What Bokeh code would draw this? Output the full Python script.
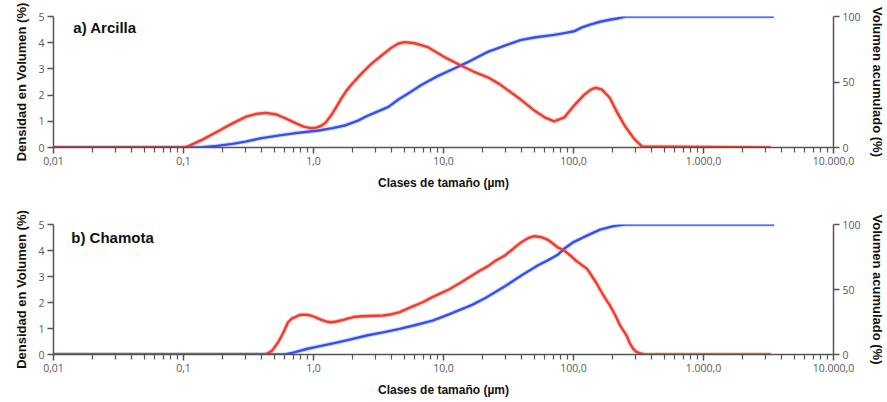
from bokeh.plotting import figure
from bokeh.models import Range1d, LinearAxis, FixedTicker, Label, CustomJSTickFormatter
from bokeh.layouts import column
from bokeh.embed import file_html
from bokeh.resources import INLINE

# ---------------- data ----------------
x_tick_values = [0.01, 0.1, 1, 10, 100, 1000, 10000]
x_tick_labels = ["0,01", "0,1", "1,0", "10,0", "100,0", "1.000,0", "10.000,0"]
dens_ticks = [0, 1, 2, 3, 4, 5]
cum_ticks = [0, 50, 100]

# a) Arcilla – volume density (%)
arc_den_x = [0.01, 0.1, 0.108, 0.14, 0.189, 0.24, 0.304, 0.37, 0.433, 0.52, 0.615, 0.75, 0.85,
             0.955, 1.05, 1.15, 1.24, 1.4, 1.5, 1.65, 1.8, 2.0, 2.34, 2.8, 3.34, 4.0, 4.5, 5.06,
             6.0, 7.6, 10.0, 13.6, 17.0, 21.9, 27.0, 32.9, 40.0, 50.0, 60.0, 71.0, 85.0, 101.0,
             120.0, 135.0, 147.0, 165.0, 190.0, 216.0, 250.0, 292.0, 336.0, 3300.0]
arc_den_y = [0, 0, 0.04, 0.3, 0.65, 0.93, 1.18, 1.29, 1.32, 1.26, 1.1, 0.9, 0.79,
             0.74, 0.76, 0.83, 0.95, 1.3, 1.55, 1.9, 2.18, 2.45, 2.82, 3.2, 3.51, 3.82, 3.97, 4.02,
             3.98, 3.83, 3.47, 3.13, 2.9, 2.68, 2.42, 2.11, 1.8, 1.41, 1.15, 1.0, 1.15, 1.6,
             2.0, 2.2, 2.28, 2.22, 1.9, 1.35, 0.8, 0.34, 0.04, 0]
# a) Arcilla – cumulative volume (%)
arc_cum_x = [0.01, 0.1, 0.14, 0.18, 0.238, 0.3, 0.40, 0.55, 0.73, 0.9, 1.1, 1.4, 1.77, 2.2,
             2.65, 3.2, 3.77, 4.5, 5.5, 6.75, 9.0, 12.2, 16.0, 21.9, 30.0, 39.0, 50.0, 71.0,
             85.0, 101.0, 115.0, 134.0, 160.0, 190.0, 216.0, 250.0, 3470.0]
arc_cum_y = [0, 0, 0.3, 1.2, 2.8, 4.5, 7.2, 9.3, 11.0, 12.0, 13.0, 14.8, 17.0, 20.5,
             24.6, 28.0, 31.0, 36.7, 42.0, 47.7, 54.5, 60.5, 66.0, 73.0, 78.0, 82.0, 84.0, 86.0,
             87.3, 88.7, 91.5, 93.8, 96.0, 97.5, 98.5, 100.0, 100.0]

# b) Chamota – volume density (%)
cha_den_x = [0.01, 0.42, 0.45, 0.48, 0.535, 0.58, 0.637, 0.68, 0.73, 0.78, 0.83, 0.88, 0.955,
             1.05, 1.15, 1.25, 1.36, 1.5, 1.7, 1.85, 2.04, 2.35, 2.7, 3.0, 3.44, 4.0, 4.6, 5.5,
             6.92, 8.0, 9.3, 11.0, 13.1, 16.6, 19.0, 22.0, 25.0, 29.7, 34.0, 39.7, 45.0, 50.0,
             56.0, 63.0, 69.0, 75.0, 84.7, 95.0, 105.0, 115.0, 127.0, 140.0, 150.0, 160.0,
             170.0, 180.0, 191.0, 210.0, 228.0, 240.0, 256.0, 270.0, 288.0, 305.0, 323.0,
             350.0, 3300.0]
cha_den_y = [0, 0, 0.05, 0.15, 0.47, 0.8, 1.24, 1.38, 1.45, 1.52, 1.53, 1.53, 1.5,
             1.42, 1.33, 1.27, 1.24, 1.27, 1.33, 1.39, 1.44, 1.47, 1.48, 1.49, 1.5, 1.55, 1.63,
             1.8, 2.01, 2.18, 2.33, 2.5, 2.72, 3.04, 3.22, 3.4, 3.6, 3.81, 4.05, 4.32, 4.48,
             4.55, 4.52, 4.42, 4.28, 4.13, 4.0, 3.8, 3.6, 3.45, 3.3, 2.98, 2.75, 2.5,
             2.27, 2.07, 1.88, 1.5, 1.12, 0.95, 0.73, 0.45, 0.22, 0.1, 0.05,
             0, 0]
# b) Chamota – cumulative volume (%)
cha_cum_x = [0.01, 0.6, 0.7, 0.9, 1.1, 1.44, 1.9, 2.57, 3.5, 4.6, 6.0, 8.24, 11.0, 13.1,
             16.6, 21.0, 29.7, 40.0, 53.0, 65.0, 75.0, 84.7, 100.0, 127.0, 160.0, 203.0,
             230.0, 256.0, 3500.0]
cha_cum_y = [0, 0, 1.5, 4.4, 6.3, 8.7, 11.5, 14.6, 17.2, 19.7, 22.5, 26.0, 30.8, 34.0,
             38.2, 43.5, 52.5, 61.0, 68.5, 73.0, 76.5, 81.3, 86.5, 91.5, 96.0, 98.7,
             99.6, 100.0, 100.0]

RED = "#f03a3a"
BLUE = "#3a4cf0"
AXIS = "#555555"
TICKTXT = "#595959"
TITLE_FONT = "Liberation Sans"


def make_panel(title, dx, dy, cx, cy, label_x, label_y, height, borders):
    bl, br, bt, bb = borders
    p = figure(width=887, height=height, x_axis_type="log",
               x_range=Range1d(0.01, 10000), y_range=Range1d(0, 5),
               output_backend="svg", toolbar_location=None)
    p.min_border_left = bl
    p.min_border_right = br
    p.min_border_top = bt
    p.min_border_bottom = bb
    p.outline_line_color = None
    p.xgrid.grid_line_color = None
    p.ygrid.grid_line_color = None
    p.background_fill_color = "white"
    p.border_fill_color = "white"
    p.extra_y_ranges = {"cum": Range1d(0, 100)}

    # x axis
    xa = p.xaxis[0]
    minors = [k * 10.0 ** d for d in range(-2, 4) for k in range(2, 10)]
    xa.ticker = FixedTicker(ticks=x_tick_values, minor_ticks=minors)
    xa.formatter = CustomJSTickFormatter(args=dict(labels=x_tick_labels), code="""
        const i = Math.round(Math.log10(tick)) + 2;
        return labels[i];
    """)
    xa.axis_label = "Clases de tamaño (µm)"

    # left axis
    ya = p.yaxis[0]
    ya.ticker = FixedTicker(ticks=dens_ticks)
    ya.axis_label = "Densidad en Volumen (%)"

    # right axis
    ra = LinearAxis(y_range_name="cum", ticker=FixedTicker(ticks=cum_ticks),
                    axis_label="Volumen acumulado (%)")
    p.add_layout(ra, "right")

    for ax in (xa, ya, ra):
        ax.axis_line_color = AXIS
        ax.axis_line_width = 1.5
        ax.major_tick_line_color = AXIS
        ax.major_tick_line_width = 1.5
        ax.major_tick_out = 6
        ax.major_tick_in = 0
        ax.minor_tick_line_color = AXIS
        ax.minor_tick_line_width = 1.2
        ax.minor_tick_out = 5
        ax.minor_tick_in = 0
        ax.major_label_text_font = "Open Sans"
        ax.major_label_text_font_size = "10.5px"
        ax.major_label_text_color = TICKTXT
        ax.major_label_standoff = 3
        ax.axis_label_text_font = TITLE_FONT
        ax.axis_label_text_font_style = "bold"
        ax.axis_label_text_color = "#111111"
        ax.axis_label_standoff = 6
    xa.axis_label_text_font_size = "12px"
    xa.axis_label_standoff = 8
    ya.axis_label_text_font_size = "13px"
    ra.axis_label_text_font_size = "13px"
    ya.minor_tick_line_color = None
    ra.minor_tick_line_color = None

    # replicate halo + main lines
    p.line(dx, dy, line_color="#f4a070", line_width=4.5, line_alpha=0.5, line_join="round")
    p.line(cx, cy, line_color="#8cb8f0", line_width=4.5, line_alpha=0.45, line_join="round",
           y_range_name="cum")
    p.line(cx, cy, line_color=BLUE, line_width=2.4, line_join="round", y_range_name="cum")
    p.line(dx, dy, line_color=RED, line_width=2.4, line_join="round")

    p.add_layout(Label(x=label_x, y=label_y, text=title, text_font=TITLE_FONT,
                       text_font_style="bold", text_font_size="15px",
                       text_color="#111111", text_baseline="middle"))
    return p


p1 = make_panel("a) Arcilla", arc_den_x, arc_den_y, arc_cum_x, arc_cum_y,
                0.0142, 4.58, 200, (53, 49, 16, 53))
p2 = make_panel("b) Chamota", cha_den_x, cha_den_y, cha_cum_x, cha_cum_y,
                0.0137, 4.5, 202, (49, 47, 24, 48))

layout = column(p1, p2, spacing=0)
open("out.html", "w").write(file_html(layout, INLINE))
